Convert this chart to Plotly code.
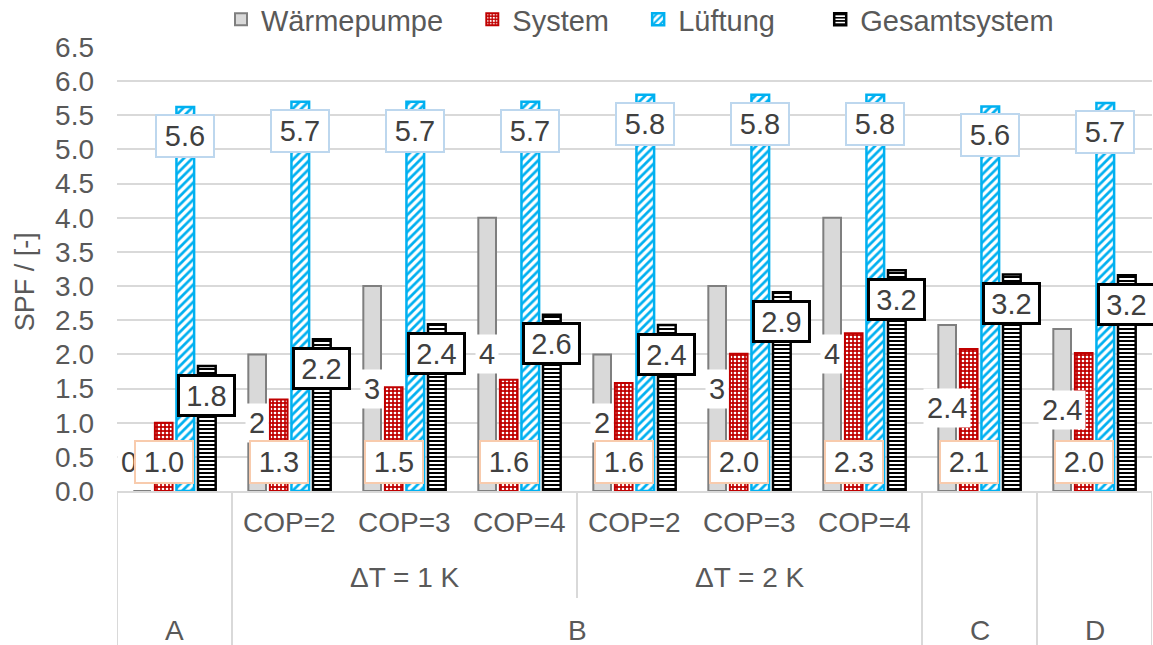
import plotly.graph_objects as go

# ---------------- data ----------------
variants = ["A", "B", "B", "B", "B", "B", "B", "C", "D"]
cop_labels = ["", "COP=2", "COP=3", "COP=4", "COP=2", "COP=3", "COP=4", "", ""]
dt_labels = ["ΔT = 1 K", "ΔT = 2 K"]
series_names = ["Wärmepumpe", "System", "Lüftung", "Gesamtsystem"]

waermepumpe = [0.0, 2.0, 3.0, 4.0, 2.0, 3.0, 4.0, 2.43, 2.37]
system = [1.00, 1.34, 1.52, 1.63, 1.58, 2.01, 2.31, 2.08, 2.02]
lueftung = [5.62, 5.70, 5.70, 5.70, 5.80, 5.80, 5.80, 5.63, 5.68]
gesamt = [1.83, 2.22, 2.44, 2.58, 2.43, 2.91, 3.23, 3.17, 3.16]

y_ticks = [i * 0.5 for i in range(14)]

# ---------------- styling ----------------
W, H = 1153, 645
ML, MR, MT, MB = 117, 1, 47, 154
PW, PH = W - ML - MR, H - MT - MB
FONT = "Liberation Sans, Arial, sans-serif"
TXT = "#595959"
LBL = "#404040"
GRID = "#D9D9D9"
BARGAP = 0.25
N = len(waermepumpe)
x = list(range(N))
legend_pad = ["\u00a0\u00a0\u00a0", "\u00a0\u00a0\u00a0", "\u00a0\u00a0\u00a0\u00a0\u00a0", ""]

styles = [
    dict(color="#D9D9D9", line=dict(color="#7F7F7F", width=2)),
    dict(color="#C00000", line=dict(color="#C00000", width=2),
         pattern=dict(shape=".", fgcolor="#FFFFFF", bgcolor="#C00000", size=4, solidity=0.35, fillmode="replace")),
    dict(color="#FFFFFF", line=dict(color="#00B0F0", width=2.5),
         pattern=dict(shape="/", fgcolor="#00B0F0", bgcolor="#FFFFFF", size=6, solidity=0.45, fillmode="replace")),
    dict(color="#FFFFFF", line=dict(color="#000000", width=2.5),
         pattern=dict(shape="-", fgcolor="#000000", bgcolor="#FFFFFF", size=4, solidity=0.5, fillmode="replace")),
]

fig = go.Figure()
for name, pad, vals, st in zip(series_names, legend_pad, [waermepumpe, system, lueftung, gesamt], styles):
    fig.add_trace(go.Bar(x=x, y=vals, name=name + pad, marker=st, hoverinfo="skip"))

slot = (1 - BARGAP) / 4


def xoff(k):
    return (k - 1.5) * slot


def wp_fmt(v):
    r = round(v, 1)
    return str(int(r)) if r == int(r) else f"{r:.1f}"


ann = []
label_font = dict(family=FONT, size=29, color=LBL)
# Wärmepumpe labels (center, no border)
for i, v in enumerate(waermepumpe):
    yy = v / 2 if v > 0 else 0.42
    ann.append(dict(x=i + xoff(0), y=yy, xref="x", yref="y", text=wp_fmt(v), showarrow=False,
                    xshift=0 if v > 0 else -13,
                    font=label_font, bgcolor="#FFFFFF", borderpad=3))
# System labels (inside base)
for i, v in enumerate(system):
    ann.append(dict(x=i + xoff(1), y=0, xref="x", yref="y", yshift=29, text=f"{v:.1f}", showarrow=False,
                    font=label_font, bgcolor="#FFFFFF", bordercolor="#F8CBAD", borderwidth=2,
                    width=52, height=36, borderpad=2))
# Lüftung labels (inside end)
for i, v in enumerate(lueftung):
    ann.append(dict(x=i + xoff(2), y=v, xref="x", yref="y", yshift=-29, text=f"{v:.1f}", showarrow=False,
                    font=label_font, bgcolor="#FFFFFF", bordercolor="#BDD7EE", borderwidth=2,
                    width=52, height=36, borderpad=2))
# Gesamt labels (inside end)
for i, v in enumerate(gesamt):
    ann.append(dict(x=i + xoff(3), y=v, xref="x", yref="y", yshift=-29, text=f"{v:.1f}", showarrow=False,
                    font=label_font, bgcolor="#FFFFFF", bordercolor="#000000", borderwidth=3,
                    width=51, height=35, borderpad=1))

# multi-level category axis
axis_font = dict(family=FONT, size=28, color=TXT)
row1, row2, row3 = -(522 - 491) / PH, -(577 - 491) / PH, -(630 - 491) / PH
for i, c in enumerate(cop_labels):
    if c:
        ann.append(dict(x=i, y=row1, xref="x", yref="paper", yanchor="middle", text=c,
                        showarrow=False, font=axis_font))
dt_pos = [(1 + 3) / 2, (4 + 6) / 2]
for p, t in zip(dt_pos, dt_labels):
    ann.append(dict(x=p, y=row2, xref="x", yref="paper", yanchor="middle", text=t,
                    showarrow=False, font=axis_font))
groups = {}
for i, v in enumerate(variants):
    groups.setdefault(v, []).append(i)
for g, idx in groups.items():
    ann.append(dict(x=(idx[0] + idx[-1]) / 2, y=row3, xref="x", yref="paper", yanchor="middle",
                    text=g, showarrow=False, font=axis_font))

# y-axis title
ann.append(dict(x=(25 - ML) / PW, y=0.47, xref="paper", yref="paper", text="SPF / [-]", textangle=-90,
                xanchor="center", yanchor="middle",
                showarrow=False, font=dict(family=FONT, size=27, color=TXT)))

shapes = []
full_y = -MB / PH
mid_y = -(598 - (MT + PH)) / PH
boundaries = [-0.5]
for i in range(1, N):
    if variants[i] != variants[i - 1]:
        boundaries.append(i - 0.5)
boundaries.append(N - 0.5)
for b in boundaries:
    shapes.append(dict(type="line", xref="x", yref="paper", x0=b, x1=b, y0=0, y1=full_y,
                       line=dict(color=GRID, width=2)))
shapes.append(dict(type="line", xref="x", yref="paper", x0=3.5, x1=3.5, y0=0, y1=mid_y,
                   line=dict(color=GRID, width=2)))

fig.update_layout(
    width=W, height=H,
    margin=dict(l=ML, r=MR, t=MT, b=MB, autoexpand=False),
    paper_bgcolor="#FFFFFF", plot_bgcolor="#FFFFFF",
    barmode="group", bargap=BARGAP, bargroupgap=0.18,
    font=dict(family=FONT, size=27, color=TXT),
    showlegend=True,
    legend=dict(orientation="h", x=(640 - ML) / PW, xanchor="center", xref="paper",
                y=(PH + MT + 6) / PH, yref="paper", yanchor="top",
                font=dict(family=FONT, size=29, color=TXT), itemwidth=30,
                tracegroupgap=0, bgcolor="rgba(0,0,0,0)"),
    xaxis=dict(range=[-0.5, N - 0.5], showticklabels=False, showgrid=False, zeroline=False,
               showline=True, linecolor=GRID, linewidth=2, ticks=""),
    yaxis=dict(range=[0, 6.5], tickvals=y_ticks, tickformat=".1f", showgrid=True, gridcolor=GRID,
               gridwidth=2, zeroline=False, showline=False, ticks="",
               tickfont=dict(family=FONT, size=28, color=TXT), ticklabelstandoff=22),
    annotations=ann,
    shapes=shapes,
)

fig.write_html("out.html")
